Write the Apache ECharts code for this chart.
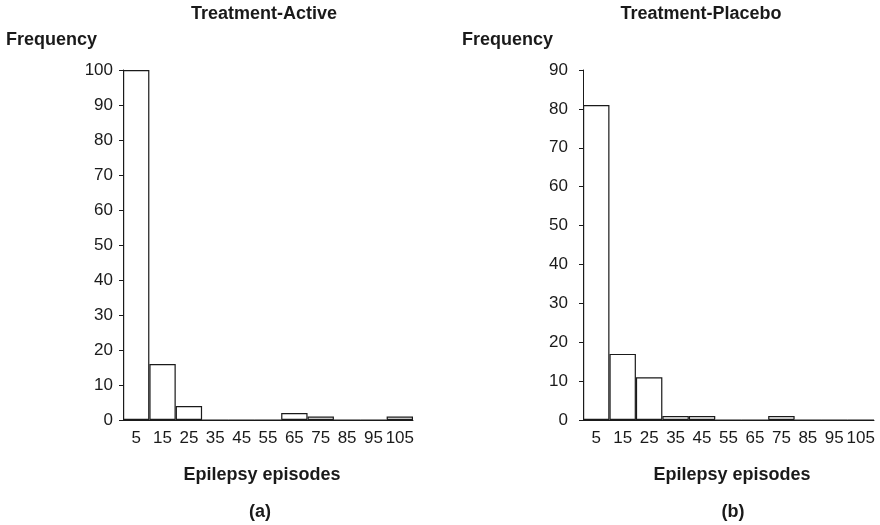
<!DOCTYPE html>
<html>
<head>
<meta charset="utf-8">
<script src="https://cdn.jsdelivr.net/npm/echarts@6/dist/echarts.min.js"></script>
<style>
  html, body { margin: 0; padding: 0; background: #fff; }
  #chart { width: 880px; height: 525px; }
</style>
</head>
<body>
<div id="chart"></div>
<script>
// Bin midpoints for the epilepsy-episode histograms
const bins = ['5', '15', '25', '35', '45', '55', '65', '75', '85', '95', '105'];
// Frequencies per bin
const activeFreq = [100, 16, 4, 0, 0, 0, 2, 1, 0, 0, 1];
const placeboFreq = [81, 17, 11, 1, 1, 0, 0, 1, 0, 0, 0];

const FONT = '"Liberation Sans", Arial, sans-serif';
const INK = '#1a1a1a';
const BOLD = 'bold 18px ' + FONT;

function xAxisFor(idx) {
  return {
    type: 'category', gridIndex: idx, data: bins,
    axisLine: { show: true, lineStyle: { color: INK, width: 1 } },
    axisTick: { show: false },
    axisLabel: { color: INK, fontFamily: FONT, fontSize: 17, margin: 10, interval: 0 }
  };
}
function yAxisFor(idx, max, labelGap) {
  return {
    type: 'value', gridIndex: idx, min: 0, max: max, interval: 10,
    axisLine: { show: true, lineStyle: { color: INK, width: 1 } },
    axisTick: { show: true, inside: false, length: 4, lineStyle: { color: INK } },
    splitLine: { show: false },
    axisLabel: { color: INK, fontFamily: FONT, fontSize: 17, margin: labelGap }
  };
}
function barSeries(idx, data) {
  return {
    type: 'bar', xAxisIndex: idx, yAxisIndex: idx, data: data,
    barCategoryGap: 0, barGap: 0,
    itemStyle: { color: '#fff', borderColor: INK, borderWidth: 1.2 },
    emphasis: { disabled: true }, animation: false
  };
}
function label(text, x, y) {
  return {
    type: 'text', x: x, y: y,
    style: { text: text, font: BOLD, fill: INK, align: 'center', verticalAlign: 'middle' }
  };
}
function leftLabel(text, x, y) {
  return {
    type: 'text', x: x, y: y,
    style: { text: text, font: BOLD, fill: INK, align: 'left', verticalAlign: 'middle' }
  };
}

const chart = echarts.init(document.getElementById('chart'), null, { renderer: 'canvas' });
chart.setOption({
  backgroundColor: '#fff',
  animation: false,
  graphic: [
    label('Treatment-Active', 264, 14),
    label('Treatment-Placebo', 701, 14),
    leftLabel('Frequency', 6, 40),
    leftLabel('Frequency', 462, 40),
    label('Epilepsy episodes', 262, 475),
    label('Epilepsy episodes', 732, 475),
    label('(a)', 260, 512),
    label('(b)', 733, 512)
  ],
  grid: [
    { left: 123, top: 70, width: 290, height: 350 },
    { left: 583, top: 70, width: 291, height: 350 }
  ],
  xAxis: [xAxisFor(0), xAxisFor(1)],
  yAxis: [yAxisFor(0, 100, 10), yAxisFor(1, 90, 15)],
  series: [barSeries(0, activeFreq), barSeries(1, placeboFreq)]
});
</script>
</body>
</html>
